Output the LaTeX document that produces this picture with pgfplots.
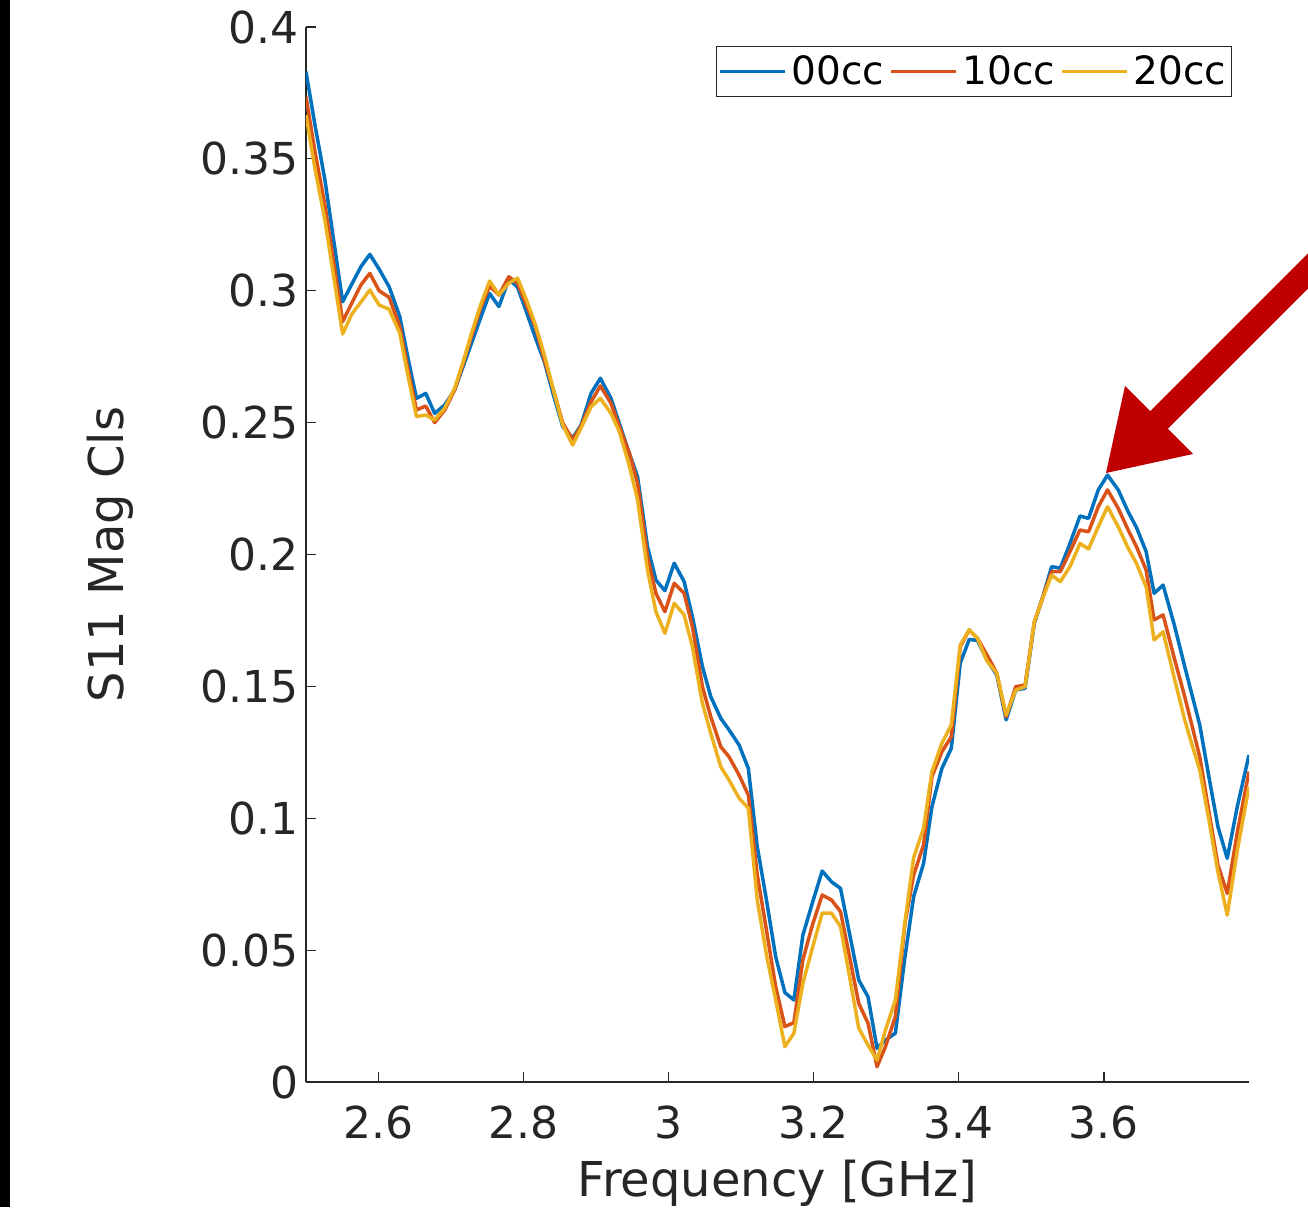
\documentclass[border=0pt]{standalone}
\usepackage{fontspec}
\setmainfont{DejaVu Sans}
\usepackage{pgfplots}
\usepackage{pgfplotstable}
\pgfplotsset{compat=1.18}
\definecolor{c1}{HTML}{0072BD}
\definecolor{c2}{HTML}{D95319}
\definecolor{c3}{HTML}{EDB120}
\definecolor{axgray}{HTML}{262626}
\definecolor{arrowred}{HTML}{C00000}

% S11 magnitude, three fill levels
\pgfplotstableread{
f      b      r      y
2.5000 0.3831 0.3736 0.3666
2.5124 0.3628 0.3526 0.3463
2.5261 0.3420 0.3325 0.3268
2.5505 0.2958 0.2883 0.2836
2.5633 0.3026 0.2954 0.2912
2.5757 0.3091 0.3022 0.2957
2.5880 0.3138 0.3066 0.3003
2.6008 0.3082 0.3000 0.2946
2.6146 0.3015 0.2975 0.2930
2.6293 0.2902 0.2864 0.2839
2.6403 0.2749 0.2707 0.2681
2.6523 0.2592 0.2548 0.2523
2.6651 0.2611 0.2563 0.2529
2.6774 0.2535 0.2500 0.2510
2.6912 0.2567 0.2548 0.2555
2.7050 0.2624 0.2624 0.2631
2.7173 0.2718 0.2730 0.2737
2.7283 0.2802 0.2829 0.2840
2.7407 0.2897 0.2935 0.2946
2.7531 0.2990 0.3018 0.3037
2.7659 0.2940 0.2984 0.2984
2.7796 0.3043 0.3053 0.3029
2.7916 0.3014 0.3029 0.3048
2.8040 0.2919 0.2946 0.2965
2.8164 0.2821 0.2863 0.2870
2.8287 0.2730 0.2737 0.2756
2.8411 0.2605 0.2624 0.2624
2.8539 0.2485 0.2499 0.2491
2.8677 0.2441 0.2434 0.2415
2.8792 0.2491 0.2487 0.2480
2.8930 0.2611 0.2579 0.2560
2.9058 0.2668 0.2639 0.2592
2.9205 0.2592 0.2573 0.2535
2.9319 0.2497 0.2485 0.2466
2.9457 0.2384 0.2385 0.2337
2.9571 0.2295 0.2270 0.2207
2.9708 0.2030 0.1992 0.1941
2.9824 0.1903 0.1853 0.1783
2.9948 0.1863 0.1783 0.1701
3.0076 0.1967 0.1891 0.1815
3.0213 0.1897 0.1853 0.1771
3.0327 0.1764 0.1726 0.1650
3.0465 0.1575 0.1499 0.1436
3.0580 0.1461 0.1385 0.1322
3.0718 0.1379 0.1271 0.1195
3.0832 0.1335 0.1233 0.1145
3.0970 0.1278 0.1164 0.1076
3.1098 0.1189 0.1088 0.1038
3.1221 0.0892 0.0785 0.0690
3.1348 0.0690 0.0576 0.0482
3.1475 0.0475 0.0361 0.0311
3.1602 0.0339 0.0210 0.0134
3.1726 0.0311 0.0225 0.0185
3.1850 0.0557 0.0463 0.0374
3.1981 0.0679 0.0595 0.0508
3.2116 0.0800 0.0709 0.0640
3.2245 0.0759 0.0690 0.0640
3.2369 0.0734 0.0646 0.0589
3.2497 0.0557 0.0470 0.0394
3.2620 0.0387 0.0298 0.0204
3.2748 0.0323 0.0223 0.0140
3.2872 0.0128 0.0058 0.0083
3.2988 0.0159 0.0134 0.0197
3.3125 0.0185 0.0248 0.0311
3.3257 0.0474 0.0602 0.0607
3.3377 0.0703 0.0785 0.0851
3.3514 0.0829 0.0899 0.0962
3.3629 0.1044 0.1158 0.1177
3.3766 0.1189 0.1252 0.1284
3.3896 0.1265 0.1309 0.1354
3.4019 0.1588 0.1650 0.1657
3.4143 0.1678 0.1714 0.1714
3.4257 0.1674 0.1682 0.1682
3.4388 0.1600 0.1619 0.1596
3.4523 0.1543 0.1550 0.1550
3.4652 0.1373 0.1385 0.1391
3.4784 0.1486 0.1499 0.1486
3.4913 0.1493 0.1505 0.1499
3.5041 0.1739 0.1745 0.1745
3.5158 0.1839 0.1839 0.1835
3.5279 0.1954 0.1935 0.1922
3.5399 0.1948 0.1935 0.1897
3.5532 0.2042 0.2011 0.1954
3.5670 0.2146 0.2093 0.2042
3.5788 0.2137 0.2086 0.2021
3.5922 0.2245 0.2181 0.2105
3.6050 0.2301 0.2245 0.2181
3.6197 0.2245 0.2175 0.2105
3.6334 0.2162 0.2093 0.2024
3.6448 0.2103 0.2030 0.1967
3.6582 0.2011 0.1941 0.1877
3.6692 0.1853 0.1752 0.1676
3.6816 0.1884 0.1771 0.1707
3.6977 0.1726 0.1600 0.1524
3.7114 0.1575 0.1461 0.1373
3.7215 0.1467 0.1350 0.1278
3.7321 0.1354 0.1233 0.1183
3.7448 0.1156 0.1024 0.0993
3.7572 0.0968 0.0823 0.0796
3.7700 0.0848 0.0715 0.0633
3.7840 0.1046 0.0948 0.0880
3.8000 0.1240 0.1177 0.1120
}\sdata

\begin{document}
\begin{tikzpicture}
\useasboundingbox (0,0) rectangle (654pt,603.5pt);
\fill[black] (0,0) rectangle (5pt,603.5pt);
\begin{axis}[
    at={(153pt,62.5pt)}, anchor=south west,
    scale only axis, width=471.5pt, height=527.5pt,
    xmin=2.5, xmax=3.8, ymin=0, ymax=0.4,
    axis x line*=bottom, axis y line*=left,
    axis line style={-, draw=axgray, line width=0.6pt},
    xtick={2.6,2.8,3,3.2,3.4,3.6},
    ytick={0,0.05,0.1,0.15,0.2,0.25,0.3,0.35,0.4},
    tick align=inside, major tick length=5pt,
    tick style={draw=axgray, line width=0.6pt},
    /pgf/number format/assume math mode=true,
    yticklabel style={/pgf/number format/fixed, /pgf/number format/precision=2},
    ticklabel style={font=\fontsize{22pt}{26pt}\selectfont, text=axgray},
    xticklabel style={yshift=-8.5pt},
    xlabel={Frequency [GHz]}, ylabel={S11 Mag Cls},
    label style={font=\fontsize{24pt}{28pt}\selectfont, text=axgray},
    xlabel style={at={(axis description cs:0.5,-0.096)}, anchor=center},
    ylabel style={at={(axis description cs:-0.208,0.5)}, anchor=center},
    legend columns=3,
    legend image code/.code={\draw[#1] (0pt,0pt) -- (32.5pt,0pt);},
    legend style={at={(0.982,0.982)}, anchor=north east,
        draw=axgray, line width=0.6pt, fill=white,
        font=\fontsize{19.5pt}{23pt}\selectfont,
        inner xsep=1pt,
        nodes={inner xsep=1.5pt, inner ysep=2.5pt},
        /tikz/every odd column/.append style={column sep=1pt},
        /tikz/every even column/.append style={column sep=1pt}},
]
\addplot[c1, line width=1.75pt, line join=round] table[x=f, y=b]{\sdata};
\addlegendentry{00cc}
\addplot[c2, line width=1.75pt, line join=round] table[x=f, y=r]{\sdata};
\addlegendentry{10cc}
\addplot[c3, line width=1.75pt, line join=round] table[x=f, y=y]{\sdata};
\addlegendentry{20cc}
\end{axis}
\begin{scope}[x=0.5pt, y=-0.5pt, shift={(0pt,603.5pt)}]
\fill[arrowred] (1106,473) -- (1193,454) -- (1167.8,428.8) -- (1308,288.6)
    -- (1308,253.4) -- (1150.2,411.2) -- (1125,386) -- cycle;
\end{scope}
\end{tikzpicture}
\end{document}
